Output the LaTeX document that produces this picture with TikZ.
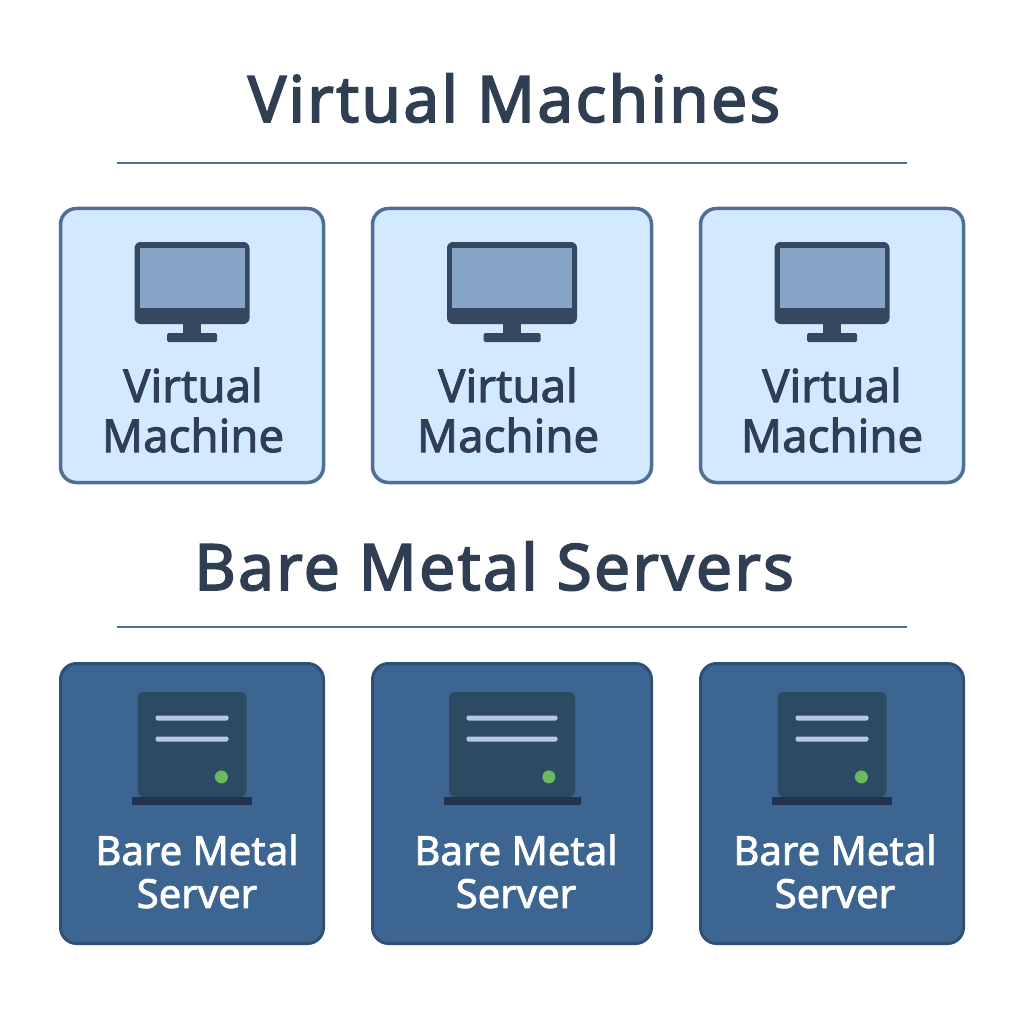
\documentclass[tikz,border=0pt]{standalone}
\usepackage{fontspec}
\usepackage{xcolor}
\setmainfont{Noto Sans}
\newfontfamily\headfont[FakeBold=2.6,LetterSpace=3.6]{Noto Sans}
\newfontfamily\cardfont[FakeBold=2]{Noto Sans}
\definecolor{inkdark}{HTML}{2F3E52}
\definecolor{ruleblue}{HTML}{4F6F96}
\definecolor{vmfill}{HTML}{D3E9FF}
\definecolor{vmedge}{HTML}{4F6F96}
\definecolor{monitorbody}{HTML}{34495F}
\definecolor{monitorscreen}{HTML}{86A5C6}
\definecolor{bmfill}{HTML}{3C6591}
\definecolor{bmedge}{HTML}{2D4F78}
\definecolor{serverbody}{HTML}{2D4A63}
\definecolor{serverbase}{HTML}{22344F}
\definecolor{serverline}{HTML}{B5C8E4}
\definecolor{serverled}{HTML}{6CB85C}
\usetikzlibrary{positioning}

\begin{document}
\begin{tikzpicture}[
  x=1pt,y=-1pt,
  heading/.style={font=\headfont\fontsize{64}{70}\selectfont,text=inkdark,inner sep=0pt,outer sep=0pt},
  divider/.style={draw=ruleblue,line width=1.8pt},
  vmcard/.style={rectangle,rounded corners=16pt,draw=vmedge,fill=vmfill,line width=3.5pt,minimum width=263pt,minimum height=274pt,inner sep=0pt,outer sep=0pt},
  bmcard/.style={rectangle,rounded corners=16pt,draw=bmedge,fill=bmfill,line width=3pt,minimum width=263pt,minimum height=280pt,inner sep=0pt,outer sep=0pt},
  vmtext/.style={font=\cardfont\fontsize{45.5}{50}\selectfont,text=inkdark,align=center,inner sep=0pt,outer sep=0pt},
  bmtext/.style={font=\cardfont\fontsize{40}{43}\selectfont,text=white,align=center,inner sep=0pt,outer sep=0pt},
  monitor/.style={rectangle,rounded corners=6pt,fill=monitorbody,minimum width=115pt,minimum height=82pt,inner sep=0pt,outer sep=0pt},
  screen/.style={rectangle,fill=monitorscreen,minimum width=105pt,minimum height=60pt,inner sep=0pt,outer sep=0pt},
  neck/.style={rectangle,fill=monitorbody,minimum width=18pt,minimum height=9pt,inner sep=0pt,outer sep=0pt},
  foot/.style={rectangle,rounded corners=1.5pt,fill=monitorbody,minimum width=50pt,minimum height=9pt,inner sep=0pt,outer sep=0pt},
  server/.style={rectangle,rounded corners=6pt,fill=serverbody,minimum width=109pt,minimum height=105pt,inner sep=0pt,outer sep=0pt},
  serverfoot/.style={rectangle,fill=serverbase,minimum width=120pt,minimum height=8pt,inner sep=0pt,outer sep=0pt},
  slot/.style={rectangle,rounded corners=2pt,fill=serverline,minimum width=73pt,minimum height=5pt,inner sep=0pt,outer sep=0pt},
  led/.style={circle,fill=serverled,minimum size=13pt,inner sep=0pt,outer sep=0pt}
]
\useasboundingbox[fill=white] (0,0) rectangle (1024,1024);

% section titles
\node[heading,anchor=base] (vmtitle) at (514,122) {Virtual Machines};
\coordinate (vmruleL) at (117,163);
\coordinate (vmruleR) at (907,163);
\draw[divider] (vmruleL)--(vmruleR);
\node[heading,anchor=base] (bmtitle) at (494,590) {Bare Metal Servers};
\coordinate (bmruleL) at (117,627);
\coordinate (bmruleR) at (907,627);
\draw[divider] (bmruleL)--(bmruleR);

% virtual machine cards
\node[vmcard] (vmA) at (192,345.5) {};
\node[vmcard,minimum width=279pt,right=49pt of vmA] (vmB) {};
\node[vmcard,right=49pt of vmB] (vmC) {};

\node[monitor,below=33.5pt of vmA.north] (monA) {};
\node[screen,below=6pt of monA.north] (scrA) {};
\node[neck,below=0pt of monA.south] (neckA) {};
\node[foot,below=0pt of neckA] (footA) {};
\node[vmtext,xshift=1pt,below=159pt of vmA.north] (vmtextA) {Virtual\\Machine};

\node[monitor,minimum width=130pt,below=33.5pt of vmB.north] (monB) {};
\node[screen,minimum width=120pt,below=6pt of monB.north] (scrB) {};
\node[neck,below=0pt of monB.south] (neckB) {};
\node[foot,minimum width=57pt,below=0pt of neckB] (footB) {};
\node[vmtext,xshift=-4pt,below=159pt of vmB.north] (vmtextB) {Virtual\\Machine};

\node[monitor,below=33.5pt of vmC.north] (monC) {};
\node[screen,below=6pt of monC.north] (scrC) {};
\node[neck,below=0pt of monC.south] (neckC) {};
\node[foot,below=0pt of neckC] (footC) {};
\node[vmtext,below=159pt of vmC.north] (vmtextC) {Virtual\\Machine};

% bare metal cards
\node[bmcard] (bmA) at (192,803.5) {};
\node[bmcard,minimum width=279pt,right=49pt of bmA] (bmB) {};
\node[bmcard,right=49pt of bmB] (bmC) {};

\node[server,below=28.5pt of bmA.north] (srvA) {};
\node[serverfoot,below=0pt of srvA.south] (baseA) {};
\node[slot,below=23.5pt of srvA.north] (slotAa) {};
\node[slot,below=16pt of slotAa] (slotAb) {};
\node[led,above left=15.5pt and 20.5pt of srvA.south east] (ledA) {};
\node[bmtext,xshift=5pt,below=171pt of bmA.north] (bmtextA) {Bare Metal\\Server};

\node[server,minimum width=126pt,below=28.5pt of bmB.north] (srvB) {};
\node[serverfoot,minimum width=137pt,below=0pt of srvB.south] (baseB) {};
\node[slot,minimum width=91pt,below=23.5pt of srvB.north] (slotBa) {};
\node[slot,minimum width=91pt,below=16pt of slotBa] (slotBb) {};
\node[led,above left=15.5pt and 21.5pt of srvB.south east] (ledB) {};
\node[bmtext,xshift=4pt,below=171pt of bmB.north] (bmtextB) {Bare Metal\\Server};

\node[server,below=28.5pt of bmC.north] (srvC) {};
\node[serverfoot,below=0pt of srvC.south] (baseC) {};
\node[slot,below=23.5pt of srvC.north] (slotCa) {};
\node[slot,below=16pt of slotCa] (slotCb) {};
\node[led,above left=15.5pt and 20.5pt of srvC.south east] (ledC) {};
\node[bmtext,xshift=3pt,below=171pt of bmC.north] (bmtextC) {Bare Metal\\Server};
\end{tikzpicture}
\end{document}
